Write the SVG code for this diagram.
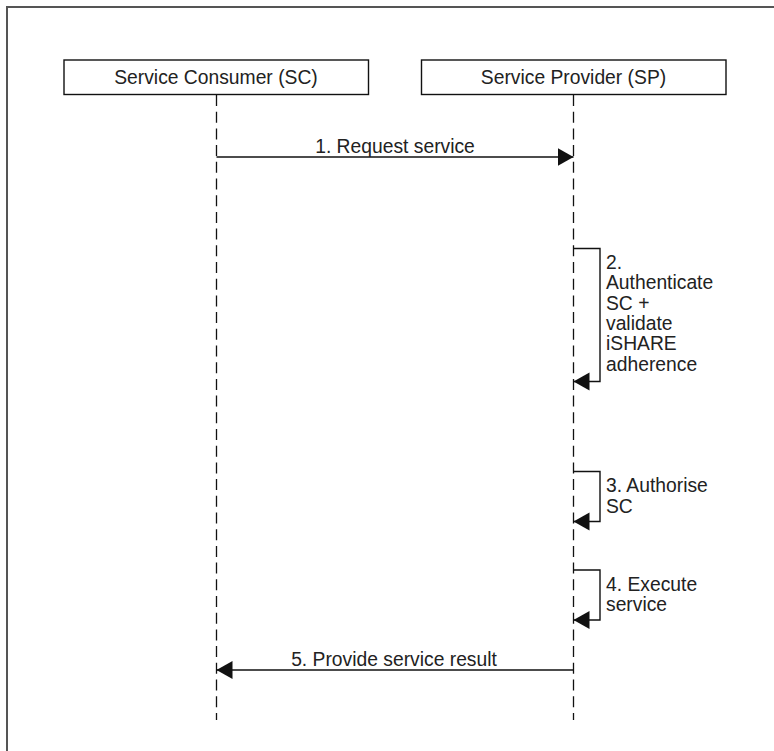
<svg xmlns="http://www.w3.org/2000/svg" width="774" height="751" viewBox="0 0 774 751">
<style>
.box{fill:#fff;stroke:#111;stroke-width:1.4}
.life{stroke:#111;stroke-width:1.3;stroke-dasharray:11 5.7;fill:none}
.msg{stroke:#111;stroke-width:1.4;fill:none}
text{font-family:"Liberation Sans",Arial,sans-serif;font-size:19.3px;fill:#222}
.c{text-anchor:middle}
</style>
<defs>
<marker id="arr" markerUnits="userSpaceOnUse" markerWidth="17" markerHeight="19" refX="16" refY="9" orient="auto">
<path d="M0,0 L16,9 L0,18 z" fill="#111"/>
</marker>
</defs>
<rect x="7" y="7" width="780" height="760" fill="#fff" stroke="#555" stroke-width="2"/>
<g id="sc">
<rect class="box" x="64" y="60" width="304.5" height="34.5"/>
<text class="c" x="216" y="84">Service Consumer (SC)</text>
</g>
<g id="sp">
<rect class="box" x="421.5" y="60" width="304.5" height="34.5"/>
<text class="c" x="573.5" y="84">Service Provider (SP)</text>
</g>
<g id="lifelines">
<line class="life" x1="216.5" y1="95" x2="216.5" y2="720"/>
<line class="life" x1="573.5" y1="95" x2="573.5" y2="720"/>
</g>
<g id="connectors">
<line class="msg" x1="216.5" y1="157" x2="573.5" y2="157" marker-end="url(#arr)"/>
<polyline class="msg" points="573.5,248.5 600,248.5 600,381.5 573.5,381.5" marker-end="url(#arr)"/>
<polyline class="msg" points="573.5,471.5 600,471.5 600,521.5 573.5,521.5" marker-end="url(#arr)"/>
<polyline class="msg" points="573.5,570 600,570 600,620 573.5,620" marker-end="url(#arr)"/>
<line class="msg" x1="573.5" y1="670" x2="216.5" y2="670" marker-end="url(#arr)"/>
</g>
<g id="labels">
<text class="c" x="395" y="153">1. Request service</text>
<text x="606" y="268.5">2.</text>
<text x="606" y="289">Authenticate</text>
<text x="606" y="309.5">SC +</text>
<text x="606" y="330">validate</text>
<text x="606" y="350">iSHARE</text>
<text x="606" y="370.5">adherence</text>
<text x="606" y="492">3. Authorise</text>
<text x="606" y="512.5">SC</text>
<text x="606" y="590.5">4. Execute</text>
<text x="606" y="611">service</text>
<text class="c" x="394" y="665.5">5. Provide service result</text>
</g>
</svg>
